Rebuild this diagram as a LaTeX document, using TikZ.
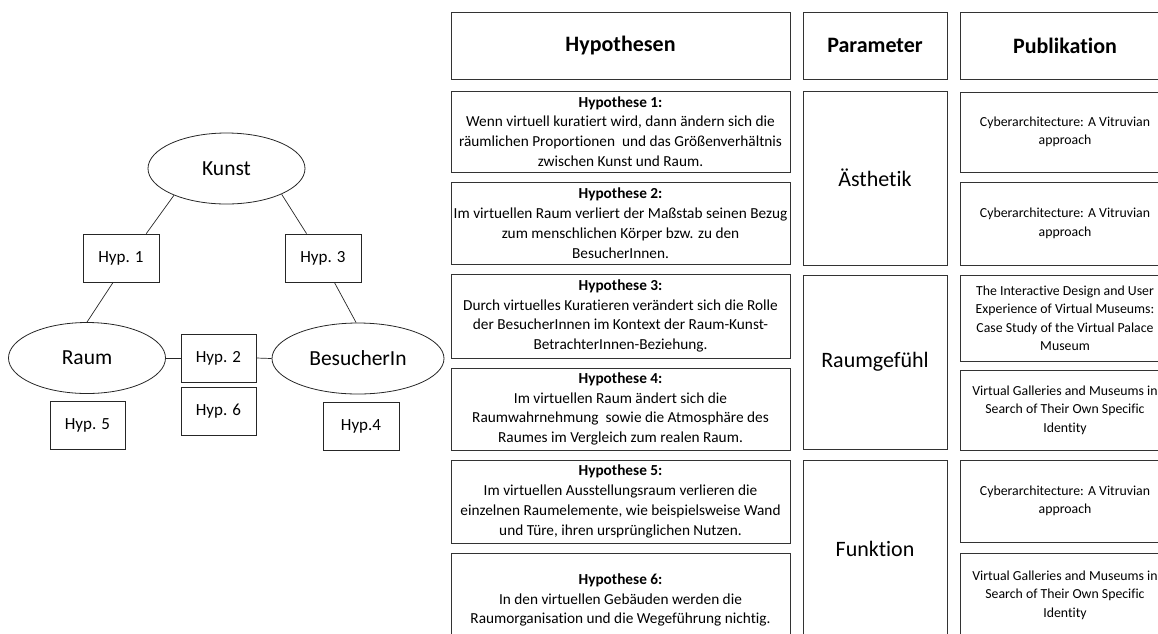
\documentclass[tikz,border=0pt]{standalone}
\usepackage{fontspec}
\setmainfont{Carlito}[Ligatures={NoCommon}]
\usetikzlibrary{shapes.geometric}

\begin{document}
\begin{tikzpicture}[x=1pt,y=-1pt,
    concept/.style={draw=black!85, line width=0.8pt, ellipse, minimum width=157pt, minimum height=71pt, inner sep=0pt, font=\fontsize{21.5}{24}\selectfont},
    hypbox/.style={draw=black!85, line width=0.8pt, rectangle, minimum width=76pt, minimum height=48pt, inner sep=0pt, font=\fontsize{17}{20}\selectfont},
    link/.style={draw=black!85, line width=0.7pt},
    cell/.style={draw=black!80, line width=1pt, rectangle, inner sep=1pt, align=center},
    head/.style={cell, font=\bfseries\fontsize{22}{26}\selectfont},
    hyptext/.style={cell, minimum width=339pt, font=\fontsize{15.3}{19.8}\selectfont},
    paramtext/.style={cell, minimum width=144pt, font=\fontsize{22}{26}\selectfont},
    pubtext/.style={cell, minimum width=210pt, font=\fontsize{13.8}{18.5}\selectfont}
  ]
  \useasboundingbox (0,0) rectangle (1158,633);
  \clip (0,0) rectangle (1158,633);

  % left: concepts and hypotheses
  \node[concept] (kunst) at (226.5,168.5) {Kunst};
  \node[concept] (raum) at (87,358) {Raum};
  \node[concept, minimum width=172pt] (besucher) at (358,358.5) {BesucherIn};

  \node[hypbox] (hyp1) at (121,258) {Hyp. 1};
  \node[hypbox] (hyp3) at (323,258) {Hyp. 3};
  \node[hypbox, minimum width=75pt] (hyp2) at (218.5,358) {Hyp. 2};
  \node[hypbox, minimum width=75pt] (hyp6) at (218.5,411) {Hyp. 6};
  \node[hypbox, minimum width=75pt] (hyp5) at (87.5,425) {Hyp. 5};
  \node[hypbox] (hyp4) at (361,426) {Hyp.4};

  \draw[link] (kunst.207) -- (hyp1.44);
  \draw[link] (hyp1.252) -- (raum.north);
  \draw[link] (kunst.335) -- (hyp3.124);
  \draw[link] (hyp3.295) -- (besucher.93);
  \draw[link] (raum.east) -- (hyp2.west);
  \draw[link] (hyp2.east) -- (besucher.west);

  % right: table
  \node[head, minimum width=339pt, minimum height=67pt] (thyp) at (620.5,45.5) {Hypothesen};
  \node[head, minimum width=144pt, minimum height=67pt] (tparam) at (875,45.5) {Parameter};
  \node[head, minimum width=210pt, minimum height=67pt] (tpub) at (1065,45.5) {Publikation};

  \node[hyptext, minimum height=81pt] (h1) at (620.5,131.5) {\textbf{Hypothese 1:}\\Wenn virtuell kuratiert wird, dann ändern sich die\\räumlichen Proportionen\ \ und das Größenverhältnis\\zwischen Kunst und Raum.};
  \node[hyptext, minimum height=82pt] (h2) at (620.5,223) {\textbf{Hypothese 2:}\\Im virtuellen Raum verliert der Maßstab seinen Bezug\\zum menschlichen Körper bzw. zu den\\BesucherInnen.};
  \node[hyptext, minimum height=84pt] (h3) at (620.5,316) {\textbf{Hypothese 3:}\\Durch virtuelles Kuratieren verändert sich die Rolle\\der BesucherInnen im Kontext der Raum-Kunst-\\BetrachterInnen-Beziehung.};
  \node[hyptext, minimum height=82pt] (h4) at (620.5,409) {\textbf{Hypothese 4:}\\Im virtuellen Raum ändert sich die\\Raumwahrnehmung\ \ sowie die Atmosphäre des\\Raumes im Vergleich zum realen Raum.};
  \node[hyptext, minimum height=83pt] (h5) at (620.5,501.5) {\textbf{Hypothese 5:}\\Im virtuellen Ausstellungsraum verlieren die\\einzelnen Raumelemente, wie beispielsweise Wand\\und Türe, ihren ursprünglichen Nutzen.};
  \node[hyptext, minimum height=94pt] (h6) at (620.5,600) {\textbf{Hypothese 6:}\\In den virtuellen Gebäuden werden die\\Raumorganisation und die Wegeführung nichtig.};

  \node[paramtext, minimum height=174pt] (p1) at (875,178) {Ästhetik};
  \node[paramtext, minimum height=174pt] (p2) at (875,362) {Raumgefühl};
  \node[paramtext, minimum height=178pt] (p3) at (875,549) {Funktion};

  \node[pubtext, minimum height=80pt] (pub1) at (1065,132) {Cyberarchitecture: A Vitruvian\\approach};
  \node[pubtext, minimum height=83pt] (pub2) at (1065,223.5) {Cyberarchitecture: A Vitruvian\\approach};
  \node[pubtext, minimum height=86pt] (pub3) at (1065,318) {The Interactive Design and User\\Experience of Virtual Museums:\\Case Study of the Virtual Palace\\Museum};
  \node[pubtext, minimum height=80pt] (pub4) at (1065,410) {Virtual Galleries and Museums in\\Search of Their Own Specific\\Identity};
  \node[pubtext, minimum height=82pt] (pub5) at (1065,501) {Cyberarchitecture: A Vitruvian\\approach};
  \node[pubtext, minimum height=84pt] (pub6) at (1065,595) {Virtual Galleries and Museums in\\Search of Their Own Specific\\Identity};
\end{tikzpicture}
\end{document}
